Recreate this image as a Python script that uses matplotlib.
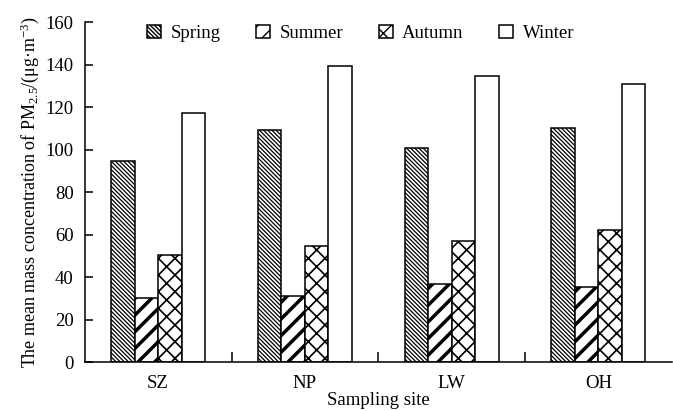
import numpy as np
import matplotlib
matplotlib.use("Agg")
import matplotlib.pyplot as plt

plt.rcParams['font.family'] = ['Liberation Serif', 'DejaVu Serif']
plt.rcParams['mathtext.fontset'] = 'custom'
plt.rcParams['mathtext.rm'] = 'Liberation Serif'
plt.rcParams['mathtext.it'] = 'Liberation Serif:italic'
plt.rcParams['font.size'] = 13.5

sites = ["SZ", "NP", "LW", "OH"]
seasons = ["Spring", "Summer", "Autumn", "Winter"]
spring = [94.6, 109.3, 100.6, 110.3]
summer = [30.2, 31.2, 36.8, 35.3]
autumn = [50.2, 54.6, 57.1, 62.1]
winter = [117.2, 139.4, 134.9, 130.8]
hatches = ["\\\\\\\\\\\\\\\\", "//", "xx", ""]
hatch_lw = [0.9, 2.5, 1.2, 1.0]

fig = plt.figure(figsize=(6.73, 4.11), dpi=100)
ax = fig.add_axes([0.126, 0.119, 0.872, 0.827])

x = np.arange(len(sites))
w = 0.16
for i, vals in enumerate([spring, summer, autumn, winter]):
    bars = ax.bar(x + (i - 1.5) * w, vals, w, color="white", edgecolor="black",
                  linewidth=1.1, hatch=hatches[i], label=seasons[i])
    for b in bars:
        if hasattr(b, "set_hatch_linewidth"):
            b.set_hatch_linewidth(hatch_lw[i])

ax.set_xlim(-0.5, 3.5)
ax.set_ylim(0, 160)
ax.set_yticks(np.arange(0, 161, 20))
ax.set_xticks([0.5, 1.5, 2.5])
ax.set_xticklabels([])
ax.set_xticks(x, minor=True)
ax.set_xticklabels(sites, minor=True)
ax.tick_params(axis="x", which="major", direction="in", length=7, width=1.1)
ax.tick_params(axis="x", which="minor", length=0, pad=9)
ax.tick_params(axis="y", direction="in", length=6, width=1.1, pad=8)
ax.spines["top"].set_visible(False)
ax.spines["right"].set_visible(False)
ax.spines["left"].set_linewidth(1.1)
ax.spines["bottom"].set_linewidth(1.1)

ax.set_ylabel(r"The mean mass concentration of PM$_{2.5}$/(μg·m$^{-3}$)",
              fontsize=13, labelpad=3)
ax.set_xlabel("Sampling site", labelpad=0)

ax.legend(loc="center", bbox_to_anchor=(0.47, 0.967), ncol=4, frameon=False,
          fontsize=13.5, handlelength=0.75, handleheight=0.75, handletextpad=0.5,
          columnspacing=1.9)

fig.savefig("out.png", dpi=100)
